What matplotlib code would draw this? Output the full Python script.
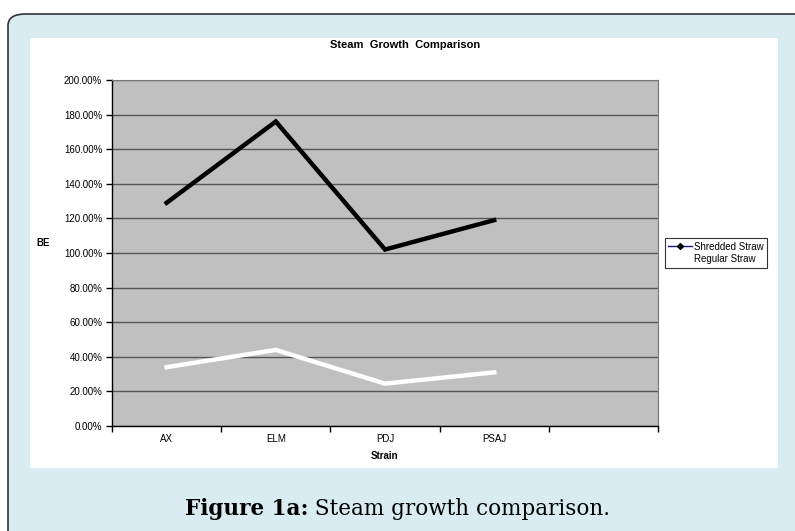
import matplotlib
matplotlib.use("Agg")
import matplotlib.pyplot as plt
import numpy as np
from matplotlib.patches import FancyBboxPatch, Rectangle
from matplotlib.ticker import FixedLocator, PercentFormatter

plt.rcParams["font.family"] = ["Liberation Sans", "DejaVu Sans"]

strains = ["AX", "ELM", "PDJ", "PSAJ", ""]
shredded = [129, 176, 102, 119]
regular = [34, 44, 24.5, 31]
y_ticks = [0, 20, 40, 60, 80, 100, 120, 140, 160, 180, 200]

W, H = 795, 531
fig = plt.figure(figsize=(W / 100, H / 100), dpi=100)
fig.patch.set_facecolor("white")

# light blue frame with rounded corner, white chart area on top
frame = FancyBboxPatch((8 / W, -0.2), 1.1, (531 - 14) / H + 0.2,
                       boxstyle="round,pad=0,rounding_size=0.022",
                       transform=fig.transFigure, facecolor="#d8ecf2",
                       edgecolor="#333333", linewidth=1.2, zorder=-2)
fig.patches.append(frame)
fig.patches.append(Rectangle((30 / W, (531 - 468) / H), 748 / W, 430 / H,
                             transform=fig.transFigure, facecolor="white",
                             edgecolor="none", zorder=-1))

ax = fig.add_axes([112 / W, (531 - 426) / H, 546 / W, 346 / H])
ax.set_facecolor("#c0c0c0")

x = np.arange(len(shredded)) + 0.5
ax.plot(x, shredded, color="black", lw=3.2, solid_joinstyle="miter", zorder=3)
ax.plot(x, regular, color="white", lw=3.2, solid_joinstyle="miter", zorder=3)

ax.set_xlim(0, len(strains))
ax.set_ylim(0, 200)
ax.yaxis.set_major_locator(FixedLocator(y_ticks))
ax.yaxis.set_major_formatter(PercentFormatter(decimals=2))
ax.grid(axis="y", color="#555555", lw=1)
ax.set_axisbelow(True)

ax.set_xticks(np.arange(len(strains)) + 0.5)
ax.set_xticklabels(strains)
ax.xaxis.set_minor_locator(FixedLocator(np.arange(len(strains) + 1)))
ax.tick_params(axis="x", which="major", length=0, labelsize=7, pad=6)
ax.tick_params(axis="x", which="minor", length=4, width=1)
ax.tick_params(axis="y", length=4, width=1, labelsize=7, pad=3)

for s in ["top", "right"]:
    ax.spines[s].set_color("#777777")
ax.spines["left"].set_linewidth(1)
ax.spines["bottom"].set_linewidth(1)

ax.set_xlabel("Strain", fontsize=7, fontweight="bold", labelpad=5)
fig.text(36 / W, 1 - 243 / H, "BE", fontsize=7, fontweight="bold",
         ha="left", va="center")
fig.text(405 / W, 1 - 45 / H, "Steam  Growth  Comparison", fontsize=8,
         fontweight="bold", ha="center", va="center")

ax.plot([], [], color="#1a1a7a", lw=1, marker="D", markersize=3,
        markerfacecolor="black", markeredgecolor="black", label="Shredded Straw")
ax.plot([], [], color="white", lw=1, marker="s", markersize=4,
        markerfacecolor="white", markeredgecolor="white", label="Regular Straw")
leg = ax.legend(loc="center left", bbox_to_anchor=(665 / W, 1 - 253 / H),
                bbox_transform=fig.transFigure, fontsize=7, frameon=True,
                fancybox=False, handlelength=2.4, handletextpad=0.2,
                borderpad=0.35, labelspacing=0.3, borderaxespad=0)
leg.get_frame().set_edgecolor("black")
leg.get_frame().set_linewidth(0.8)

# caption: bold part + regular part, centred together
cap_y = 1 - 509 / H
t1 = fig.text(0, cap_y, "Figure 1a:", fontsize=15.5, family="DejaVu Serif",
              fontweight="bold", ha="left", va="center")
t2 = fig.text(0, cap_y, " Steam growth comparison.", fontsize=15.5,
              family="DejaVu Serif", ha="left", va="center")
fig.canvas.draw()
r = fig.canvas.get_renderer()
w1 = t1.get_window_extent(r).width / W
w2 = t2.get_window_extent(r).width / W
x0 = 0.5 - (w1 + w2) / 2
t1.set_x(x0)
t2.set_x(x0 + w1)

fig.savefig("out.png", dpi=100)
